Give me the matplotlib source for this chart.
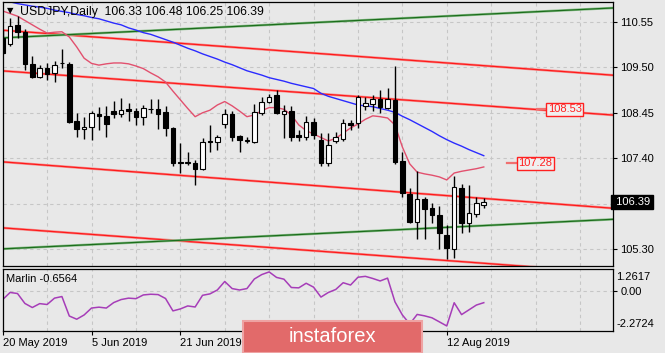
import numpy as np
import matplotlib.pyplot as plt
from matplotlib.patches import Rectangle

plt.rcParams['font.family'] = ['Liberation Sans', 'DejaVu Sans']

# USDJPY daily bars, 20 May 2019 .. 19 Aug 2019 (bar index 0..65)
opens = [110.17, 110.04, 110.48, 110.32, 109.58, 109.27, 109.49, 109.36, 109.59, 109.58,
         108.27, 108.07, 108.12, 108.42, 108.38, 108.49, 108.42, 108.53, 108.49, 108.36,
         108.53, 108.54, 108.46, 108.09, 107.31, 107.30, 107.29, 107.15, 107.79, 107.78,
         108.19, 108.42, 107.92, 107.80, 107.78, 108.44, 108.71, 108.85, 108.42, 108.49,
         107.94, 107.90, 108.23, 107.82, 107.29, 107.80, 107.84, 108.22, 108.21, 108.61,
         108.65, 108.76, 108.57, 108.75, 107.34, 106.58, 105.94, 106.46, 106.25, 106.09,
         105.63, 105.30, 106.72, 105.90, 106.12, 106.33]
highs = [110.35, 110.63, 110.68, 110.38, 109.76, 109.55, 109.61, 109.65, 109.92, 109.62,
         108.45, 108.36, 108.49, 108.58, 108.61, 108.72, 108.79, 108.68, 108.55, 108.63,
         108.76, 108.76, 108.61, 108.12, 107.76, 107.55, 107.36, 107.86, 108.17, 107.94,
         108.53, 108.48, 107.94, 107.90, 108.65, 108.82, 108.88, 108.98, 108.63, 108.61,
         108.05, 108.38, 108.32, 107.99, 107.98, 108.01, 108.30, 108.28, 108.86, 108.82,
         108.86, 108.98, 109.02, 109.53, 107.55, 106.71, 107.11, 106.51, 106.36, 106.30,
         105.86, 106.99, 106.81, 106.78, 106.51, 106.48]
lows = [109.80, 109.99, 110.17, 109.44, 109.25, 109.25, 109.21, 109.15, 109.48, 108.22,
        107.89, 107.84, 107.82, 108.05, 107.90, 108.32, 108.36, 108.27, 108.17, 108.17,
        108.45, 108.07, 107.91, 107.23, 107.05, 107.25, 106.78, 107.13, 107.55, 107.58,
        108.09, 107.81, 107.55, 107.75, 107.76, 108.40, 108.67, 108.42, 107.86, 107.81,
        107.81, 107.82, 107.84, 107.23, 107.23, 107.75, 107.81, 108.05, 108.09, 108.52,
        108.48, 108.44, 108.53, 107.27, 106.51, 105.91, 105.53, 105.53, 105.91, 105.30,
        105.07, 105.09, 105.68, 105.71, 106.05, 106.25]
closes = [109.82, 110.45, 110.31, 109.58, 109.27, 109.49, 109.35, 109.55, 109.60, 108.24,
          108.07, 108.13, 108.44, 108.38, 108.19, 108.42, 108.52, 108.49, 108.36, 108.57,
          108.54, 108.42, 108.09, 107.29, 107.29, 107.31, 107.15, 107.78, 107.78, 107.89,
          108.42, 107.89, 107.82, 107.81, 108.46, 108.71, 108.82, 108.44, 108.49, 107.90,
          107.89, 108.23, 107.94, 107.29, 107.71, 107.88, 108.21, 108.17, 108.82, 108.67,
          108.77, 108.59, 108.77, 107.32, 106.61, 105.94, 106.46, 106.22, 106.09, 105.67,
          105.32, 106.73, 105.91, 106.13, 106.36, 106.39]

# moving averages drawn on the price chart
blue_ma = [111.05, 111.01, 110.97, 110.94, 110.91, 110.89, 110.86, 110.82, 110.79, 110.76,
           110.72, 110.69, 110.65, 110.62, 110.57, 110.52, 110.48, 110.41, 110.36, 110.30,
           110.26, 110.20, 110.14, 110.08, 110.01, 109.94, 109.88, 109.81, 109.75, 109.69,
           109.62, 109.56, 109.49, 109.42, 109.37, 109.32, 109.26, 109.22, 109.18, 109.13,
           109.09, 109.05, 109.01, 108.90, 108.83, 108.78, 108.73, 108.68, 108.63, 108.61,
           108.59, 108.55, 108.51, 108.46, 108.37, 108.29, 108.20, 108.11, 108.02, 107.92,
           107.83, 107.75, 107.68, 107.60, 107.53, 107.46]
pink_ma = [110.80, 110.74, 110.68, 110.58, 110.48, 110.38, 110.29, 110.31, 110.32, 110.20,
           109.97, 109.71, 109.59, 109.55, 109.58, 109.60, 109.60, 109.58, 109.53, 109.47,
           109.37, 109.28, 109.16, 108.95, 108.75, 108.55, 108.36, 108.45, 108.51, 108.63,
           108.71, 108.61, 108.49, 108.36, 108.40, 108.50, 108.57, 108.57, 108.53, 108.40,
           108.17, 108.04, 107.96, 107.88, 107.80, 107.86, 107.98, 108.10, 108.19, 108.30,
           108.38, 108.36, 108.33, 108.17, 107.66, 107.27, 107.08, 107.04, 107.01, 106.97,
           106.90, 107.06, 107.10, 107.13, 107.16, 107.20]

# Marlin oscillator (lower window)
marlin = [-0.48, -0.08, -0.14, -0.70, -0.93, -0.71, -0.76, -0.40, -0.31, -1.41,
          -1.59, -1.35, -0.96, -0.91, -0.96, -0.65, -0.48, -0.40, -0.43, -0.22,
          -0.18, -0.20, -0.42, -1.12, -1.01, -0.84, -0.90, -0.24, -0.16, 0.06,
          0.54, 0.14, 0.06, 0.14, 0.68, 0.93, 1.08, 0.77, 0.67, 0.20,
          0.18, 0.44, 0.22, -0.34, -0.08, 0.09, 0.47, 0.34, 0.78, 0.83,
          0.71, 0.57, 0.73, -0.61, -1.35, -1.86, -1.32, -1.40, -1.51, -1.74,
          -1.97, -0.66, -1.33, -1.06, -0.79, -0.6564]

# channel lines: price at bar 0 and at right edge of chart
line_x = [0, 82.5]
red_lines = [[110.356, 109.317], [109.417, 108.397], [107.317, 106.246], [105.794, 104.757]]
green_lines = [[110.179, 110.870], [105.309, 105.992]]

level_labels = [108.53, 107.28]
level_x = [72.2, 68.2]

price_ticks = [105.30, 107.40, 108.45, 109.50, 110.55]
grid_prices = [105.30, 106.35, 107.40, 108.45, 109.50, 110.55]
# labels at bars 36 and 48 sit under the watermark in the original
date_ticks = [0, 12, 24, 60]
date_labels = ['20 May 2019', '5 Jun 2019', '21 Jun 2019', '12 Aug 2019']
marlin_ticks = [1.2617, 0.0, -2.2724]
last_price = 106.39

bg = '#e8e8e8'
W, H = 665, 353
fig = plt.figure(figsize=(W / 100, H / 100), dpi=100, facecolor=bg)

x0, x1 = 2.7 / W, 613.3 / W
ax = fig.add_axes([x0, 1 - 266 / H, x1 - x0, (266 - 1.7) / H], facecolor=bg)
ax2 = fig.add_axes([x0, 1 - 331.3 / H, x1 - x0, (331.3 - 268.7) / H], facecolor=bg)

xmax = 82.5
idx = np.arange(len(opens))
grid_kw = dict(color='#c6c6c6', lw=0.8, ls=(0, (3, 3)), zorder=0)

# --- price window ---
for gx in range(6, 83, 6):
    ax.axvline(gx, **grid_kw)
    ax2.axvline(gx, **grid_kw)
for gy in grid_prices:
    ax.axhline(gy, **grid_kw)
ax2.axhline(0, **grid_kw)

for pr in red_lines:
    ax.plot(line_x, pr, color='#f59090', lw=1.8, zorder=1)
    ax.plot(line_x, pr, color='#ff1a1a', lw=0.9, zorder=1)
for pr in green_lines:
    ax.plot(line_x, pr, color='#8cbf8c', lw=1.8, zorder=1)
    ax.plot(line_x, pr, color='#1c6e1c', lw=0.9, zorder=1)

ax.plot(idx, blue_ma, color='#2b2bff', lw=1.0, zorder=2)
ax.plot(idx, pink_ma, color='#e2506e', lw=1.0, zorder=2)

o = np.array(opens); c = np.array(closes)
up = c >= o
ax.vlines(idx, lows, highs, color='black', lw=1.0, zorder=3)
body_h = np.maximum(np.abs(c - o), 0.012)
ax.bar(idx, body_h, bottom=np.minimum(o, c), width=0.62,
       color=np.where(up, 'white', 'black'), edgecolor='black', lw=0.8, zorder=4)

# price level labels
for lx, lv in zip(level_x, level_labels):
    ax.plot([lx, lx + 1.3], [lv, lv], color='#f07070', lw=1.6, zorder=5)
    ax.text(lx + 1.45, lv, f'{lv:.2f}', color='#ff2020', fontsize=8, va='center', ha='left', zorder=6,
            bbox=dict(boxstyle='square,pad=0.15', fc='#f0f0f0', ec='#ff2020', lw=1))

ax.set_xlim(0, xmax)
ax.set_ylim(104.914, 111.014)
ax.set_xticks([])
ax.yaxis.tick_right()
ax.set_yticks(price_ticks)
ax.set_yticklabels([f'{p:.2f}' for p in price_ticks])
ax.tick_params(axis='y', length=3, width=0.8, pad=2, labelsize=8, colors='black')
for s in ax.spines.values():
    s.set_color('black'); s.set_linewidth(0.9)

ax.text(1.0, last_price, f' {last_price:.2f}', transform=ax.get_yaxis_transform(), color='white',
        fontsize=8, va='center', ha='left', zorder=7,
        bbox=dict(boxstyle='square,pad=0.2', fc='black', ec='black'))

# --- Marlin window ---
ax2.plot(idx, marlin, color='#a63db8', lw=1.1, zorder=2)
ax2.set_xlim(0, xmax)
ax2.set_ylim(marlin_ticks[-1], marlin_ticks[0])
ax2.yaxis.tick_right()
ax2.set_yticks([0.0])
ax2.set_yticklabels(['0.00'])
ax2.tick_params(axis='y', length=3, width=0.8, pad=2, labelsize=8)
for val, dy in [(marlin_ticks[0], -6), (marlin_ticks[-1], 5)]:
    ax2.annotate(f'{val:.4f}', xy=(1, val), xycoords=ax2.get_yaxis_transform(),
                 xytext=(2, dy), textcoords='offset points', va='center', ha='left', fontsize=8)
ax2.set_xticks(date_ticks)
ax2.set_xticklabels(date_labels, ha='left', fontsize=8)
ax2.tick_params(axis='x', length=3, width=0.8, pad=1.5)
for s in ax2.spines.values():
    s.set_color('black'); s.set_linewidth(0.9)

# header texts
fig.text(7 / W, 1 - 11 / H, '\u25bc', fontsize=6, family='DejaVu Sans', va='center', ha='left')
fig.text(20 / W, 1 - 12 / H, 'USDJPY,Daily  106.33 106.48 106.25 106.39', fontsize=8.8,
         va='center', ha='left')
fig.text(6 / W, 1 - 279 / H, f'Marlin {marlin[-1]:.4f}', fontsize=8, va='center', ha='left')

# watermark
wm = Rectangle((243.3 / W, 0), (422.3 - 243.3) / W, (353 - 321.3) / H, transform=fig.transFigure,
               fc='#e26a6a', ec='#eea3a3', lw=1.5, zorder=20)
fig.add_artist(wm)
fig.text(332.8 / W, 1 - 336 / H, 'instaforex', color='white', fontsize=14.5, va='center',
         ha='center', zorder=21)

fig.savefig('out.png', dpi=100, facecolor=bg)
